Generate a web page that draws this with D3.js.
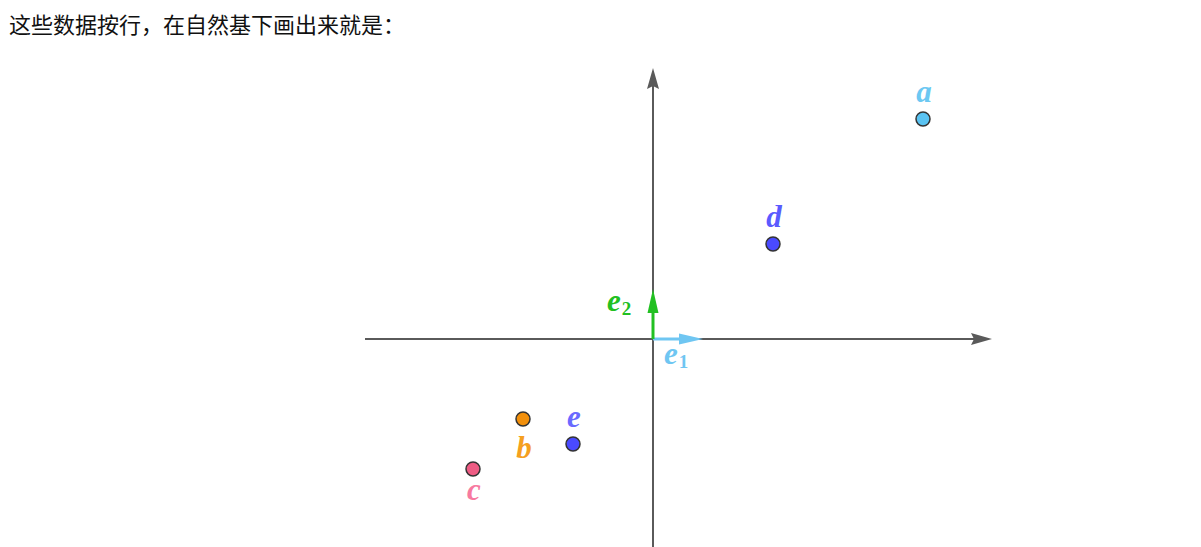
<!DOCTYPE html>
<html><head><meta charset="utf-8">
<script src="https://cdn.jsdelivr.net/npm/d3@7"></script>
<style>
html,body{margin:0;padding:0;background:#fff;}
svg{display:block;}
</style></head>
<body>
<svg id="chart" width="1201" height="547"></svg>
<script>
const title = "这些数据按行，在自然基下画出来就是：";
const names = ["a", "b", "c", "d", "e"];
const xs = [5.4, -2.6, -3.6, 2.4, -1.6];
const ys = [4.4, -1.6, -2.6, 1.9, -2.1];
const labelSide = ["above", "below", "below", "above", "above"];
const basisNames = ["e1", "e2"];
const basisX = [1, 0];
const basisY = [0, 1];

const pointFill = {a: "#5ac3f2", b: "#f2900c", c: "#ee5c84", d: "#4a4aff", e: "#4a4aff"};
const labelFill = {a: "#6cc8f2", b: "#f5a01e", c: "#f77aa0", d: "#5a5aff", e: "#6a6aff"};
const basisColor = {e1: "#6fc6f2", e2: "#22c022"};

const svg = d3.select("#chart");
svg.append("text").attr("x", 9).attr("y", 33)
  .style("font-family", "'Noto Sans CJK SC'").style("font-size", "22px").attr("fill", "#111")
  .text(title);

const x = d3.scaleLinear().domain([-5.76, 6.78]).range([365, 992]);
const y = d3.scaleLinear().domain([-4.3, 5.42]).range([554, 68]);

const axisColor = "#5a5a5a";
// horizontal axis
svg.append("line").attr("x1", x(-5.76)).attr("x2", x(6.5)).attr("y1", y(0)).attr("y2", y(0))
  .attr("stroke", axisColor).attr("stroke-width", 2);
svg.append("path").attr("fill", axisColor)
  .attr("d", `M${x(6.78)},${y(0)} L${x(6.78)-21},${y(0)-6} L${x(6.78)-18},${y(0)} L${x(6.78)-21},${y(0)+6} Z`);
// vertical axis
svg.append("line").attr("x1", x(0)).attr("x2", x(0)).attr("y1", y(-4.3)).attr("y2", y(5.1))
  .attr("stroke", axisColor).attr("stroke-width", 2);
svg.append("path").attr("fill", axisColor)
  .attr("d", `M${x(0)},${y(5.42)} L${x(0)-6},${y(5.42)+21} L${x(0)},${y(5.42)+18} L${x(0)+6},${y(5.42)+21} Z`);

// basis vectors
basisNames.forEach((n, i) => {
  const x0 = x(0), y0 = y(0), x1 = x(basisX[i]), y1 = y(basisY[i]);
  const dx = x1 - x0, dy = y1 - y0, L = Math.hypot(dx, dy);
  const ux = dx / L, uy = dy / L, px = -uy, py = ux;
  const hl = 24, hw = 5.5;
  const g = svg.append("g");
  g.append("line").attr("x1", x0).attr("y1", y0).attr("x2", x1 - ux * hl * 0.8).attr("y2", y1 - uy * hl * 0.8)
    .attr("stroke", basisColor[n]).attr("stroke-width", 3);
  g.append("path").attr("fill", basisColor[n])
    .attr("d", `M${x1},${y1} L${x1 - ux*hl + px*hw},${y1 - uy*hl + py*hw} L${x1 - ux*hl - px*hw},${y1 - uy*hl - py*hw} Z`);
});
// basis labels
const lab = svg.append("g").style("font-family", "'Liberation Serif', serif").style("font-style", "italic").style("font-weight", "bold");
const t2 = lab.append("text").attr("x", x(0) - 46).attr("y", y(0) - 28).attr("fill", basisColor.e2).style("font-size", "31px");
t2.append("tspan").text("e");
t2.append("tspan").attr("dy", 4).attr("dx", 1).style("font-size", "19px").style("font-style", "normal").text("2");
const t1 = lab.append("text").attr("x", x(0) + 11).attr("y", y(0) + 25).attr("fill", basisColor.e1).style("font-size", "31px");
t1.append("tspan").text("e");
t1.append("tspan").attr("dy", 4).attr("dx", 1).style("font-size", "19px").style("font-style", "normal").text("1");

// points
const pts = names.map((n, i) => ({n, x: xs[i], y: ys[i], side: labelSide[i]}));
svg.append("g").selectAll("circle").data(pts).join("circle")
  .attr("cx", d => x(d.x)).attr("cy", d => y(d.y)).attr("r", 7)
  .attr("fill", d => pointFill[d.n]).attr("stroke", "#333").attr("stroke-width", 1.5);

lab.selectAll("text.pl").data(pts).join("text").attr("class", "pl")
  .attr("x", d => x(d.x) + 1)
  .attr("y", d => d.side === "above" ? y(d.y) - 17 : y(d.y) + (d.n === "b" ? 39 : 31))
  .attr("text-anchor", "middle").attr("fill", d => labelFill[d.n]).style("font-size", "31px")
  .text(d => d.n);
</script>
</body></html>
